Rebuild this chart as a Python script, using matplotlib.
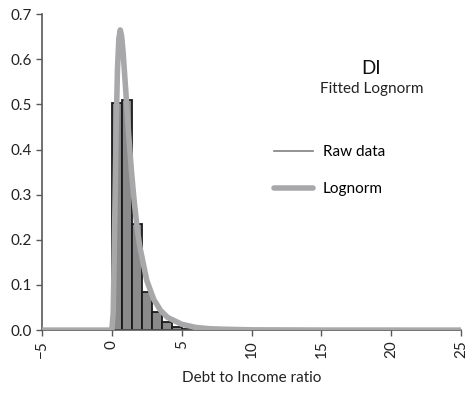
import numpy as np
import matplotlib.pyplot as plt
from matplotlib.lines import Line2D

plt.rcParams['font.family'] = ['Lato', 'DejaVu Sans']

# histogram of raw data (bin width 5/7)
bin_left = [0.0, 0.714, 1.429, 2.143, 2.857, 3.571, 4.286, 5.0]
bin_height = [0.503, 0.510, 0.235, 0.085, 0.040, 0.018, 0.007, 0.003]
bin_width = 0.714

# fitted lognorm curve
curve_x = [-5, 0, 0.1, 0.2, 0.3, 0.4, 0.5, 0.6, 0.7, 0.8, 1.0, 1.2, 1.4, 1.6,
           1.8, 2.0, 2.5, 3.0, 3.5, 4.0, 5.0, 6.0, 7.0, 8.0, 10.0, 15.0, 25.0]
curve_y = [0, 0, 0.039, 0.230, 0.435, 0.576, 0.646, 0.665, 0.651, 0.618, 0.528,
           0.435, 0.353, 0.285, 0.229, 0.185, 0.110, 0.068, 0.043, 0.028, 0.013,
           0.006, 0.003, 0.002, 0.0006, 0.0001, 0]

x_ticks = [-5, 0, 5, 10, 15, 20, 25]
y_ticks = [0.0, 0.1, 0.2, 0.3, 0.4, 0.5, 0.6, 0.7]

fig = plt.figure(figsize=(4.69, 3.93), dpi=100)
ax = fig.add_axes([0.0896, 0.160, 0.8934, 0.804])

ax.bar(bin_left, bin_height, width=bin_width, align='edge',
       color='#8a8a8a', edgecolor='#1a1a1a', linewidth=1.3, zorder=2)
ax.plot(curve_x, curve_y, color='#a8a8aa', linewidth=4,
        solid_capstyle='round', solid_joinstyle='round', zorder=3)

ax.set_xlim(-5, 25)
ax.set_ylim(0, 0.7)
ax.set_xticks(x_ticks)
ax.set_xticklabels([str(t).replace('-', '\u2212') for t in x_ticks], rotation=90)
ax.set_yticks(y_ticks)
ax.set_yticklabels(['%.1f' % t for t in y_ticks])
ax.tick_params(axis='both', labelsize=11, colors='#595959', labelcolor='#222222',
               length=4, width=1)
ax.tick_params(axis='x', pad=3)

for s in ['top', 'right']:
    ax.spines[s].set_visible(False)
for s in ['left', 'bottom']:
    ax.spines[s].set_color('#595959')
    ax.spines[s].set_linewidth(1.2)

ax.set_xlabel('Debt to Income ratio', fontsize=11, color='#222222', labelpad=10)

ax.text(0.786, 0.829, 'DI', transform=ax.transAxes, ha='center', va='center',
        fontsize=13.5, color='#111111')
ax.text(0.786, 0.763, 'Fitted Lognorm', transform=ax.transAxes, ha='center',
        va='center', fontsize=11, color='#222222')

handles = [Line2D([], [], color='#808080', linewidth=1.2),
           Line2D([], [], color='#a8a8aa', linewidth=4, solid_capstyle='round')]
ax.legend(handles, ['Raw data', 'Lognorm'], loc='center left',
          bbox_to_anchor=(0.52, 0.505), frameon=False, fontsize=11,
          handlelength=2.6, handletextpad=0.6, labelspacing=1.5)

fig.savefig('out.png', dpi=100)
